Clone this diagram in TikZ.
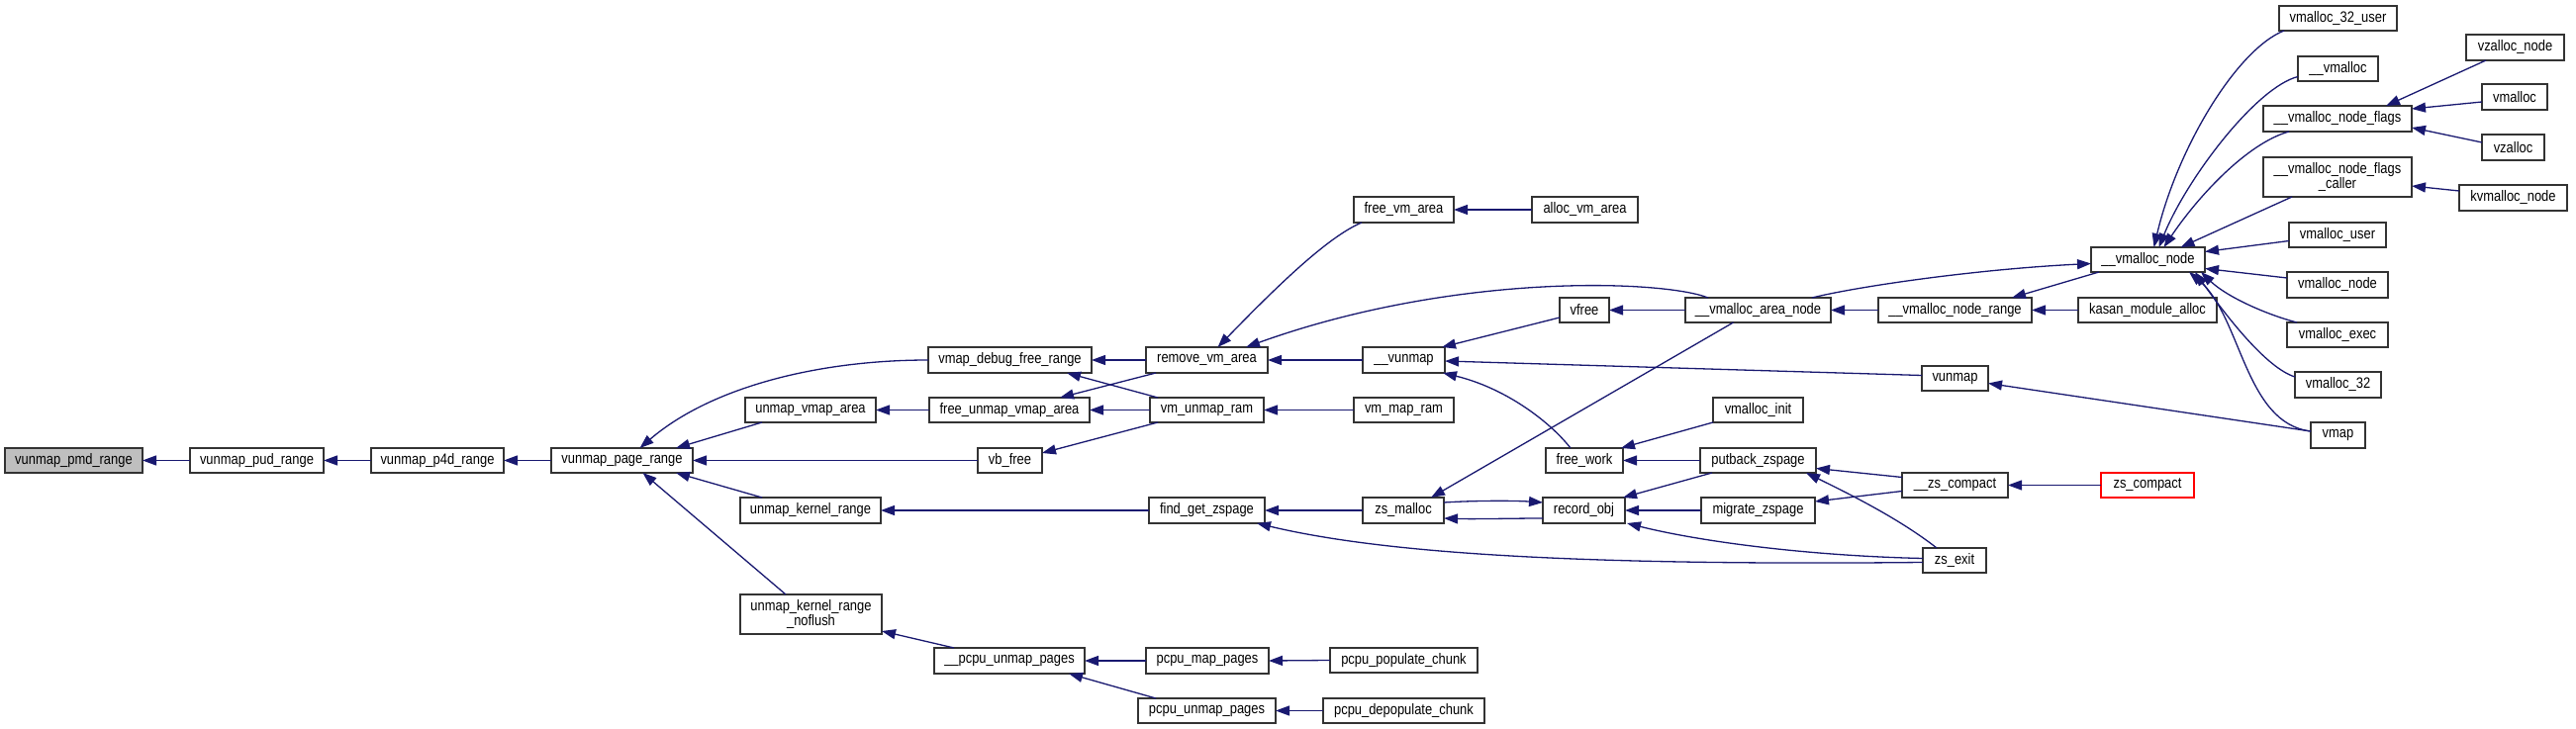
\documentclass[tikz,border=0pt]{standalone}
\usepackage{fontspec}
\newfontfamily\nodefont[FakeStretch=0.85]{Liberation Sans}
\usetikzlibrary{arrows.meta,calc}
\definecolor{dblue}{HTML}{191970}
\definecolor{fillgray}{HTML}{BFBFBF}
\tikzset{
  nbox/.style={draw=black!80, line width=0.8pt, fill=white, inner sep=0pt, outer sep=0pt,
    align=center, font=\nodefont\fontsize{7.6}{7.6}\selectfont, text=black},
  edge/.style={draw=dblue, line width=0.65pt, -{Triangle[length=7pt,width=5pt]}},
}
\newcommand{\dnode}[7][]{\node[nbox,#1,minimum width={(#5-#3)*0.5pt},minimum height={(#6-#4)*0.5pt}] (#2) at ({(#3+#5)/2},{(#4+#6)/2}) {#7};}
\begin{document}
\begin{tikzpicture}[x=0.5pt,y=-0.5pt]
\useasboundingbox (0,0) rectangle (2603,737);
% nodes
\dnode[fill=fillgray]{pmd}{5}{453}{144}{478}{vunmap\_pmd\_range}
\dnode{pud}{192}{453}{327}{478}{vunmap\_pud\_range}
\dnode{p4d}{375}{453}{509}{478}{vunmap\_p4d\_range}
\dnode{vpr}{557}{453}{700}{478}{vunmap\_page\_range}
\dnode{uva}{753}{402}{885}{427}{unmap\_vmap\_area}
\dnode{ukr}{748}{503}{890}{529}{unmap\_kernel\_range}
\dnode{ukrn}{748}{601}{891}{641}{unmap\_kernel\_range\\\_noflush}
\dnode{vdfr}{938}{351}{1103}{377}{vmap\_debug\_free\_range}
\dnode{fuva}{939}{402}{1101}{427}{free\_unmap\_vmap\_area}
\dnode{vbf}{988}{453}{1053}{478}{vb\_free}
\dnode{pcup}{944}{655}{1096}{681}{\_\_pcpu\_unmap\_pages}
\dnode{rva}{1158}{351}{1281}{377}{remove\_vm\_area}
\dnode{vur}{1162}{402}{1277}{427}{vm\_unmap\_ram}
\dnode{fgz}{1161}{503}{1278}{529}{find\_get\_zspage}
\dnode{pmp}{1158}{655}{1282}{681}{pcpu\_map\_pages}
\dnode{pup}{1150}{706}{1289}{731}{pcpu\_unmap\_pages}
\dnode{fva}{1368}{199}{1469}{225}{free\_vm\_area}
\dnode{vun}{1377}{351}{1460}{377}{\_\_vunmap}
\dnode{vmr}{1368}{402}{1469}{427}{vm\_map\_ram}
\dnode{zsm}{1377}{503}{1459}{529}{zs\_malloc}
\dnode{ppc}{1344}{655}{1493}{680}{pcpu\_populate\_chunk}
\dnode{pdc}{1337}{706}{1500}{731}{pcpu\_depopulate\_chunk}
\dnode{ava}{1548}{199}{1655}{225}{alloc\_vm\_area}
\dnode{vfr}{1576}{301}{1626}{326}{vfree}
\dnode{fw}{1562}{453}{1640}{478}{free\_work}
\dnode{ro}{1559}{503}{1642}{529}{record\_obj}
\dnode{van}{1703}{301}{1850}{326}{\_\_vmalloc\_area\_node}
\dnode{vi}{1731}{402}{1822}{427}{vmalloc\_init}
\dnode{pz}{1718}{453}{1835}{478}{putback\_zspage}
\dnode{mz}{1719}{503}{1834}{529}{migrate\_zspage}
\dnode{vnr}{1898}{301}{2053}{326}{\_\_vmalloc\_node\_range}
\dnode{vunm}{1942}{370}{2009}{395}{vunmap}
\dnode{zc}{1922}{478}{2029}{503}{\_\_zs\_compact}
\dnode{zx}{1943}{554}{2007}{579}{zs\_exit}
\dnode{vn}{2113}{250}{2228}{275}{\_\_vmalloc\_node}
\dnode{kma}{2100}{301}{2240}{326}{kasan\_module\_alloc}
\dnode[draw=red]{zsc}{2123}{478}{2217}{503}{zs\_compact}
\dnode{vtu}{2303}{6}{2422}{31}{vmalloc\_32\_user}
\dnode{vmal}{2322}{57}{2403}{82}{\_\_vmalloc}
\dnode{vnf}{2287}{107}{2437}{133}{\_\_vmalloc\_node\_flags}
\dnode{vnfc}{2287}{159}{2437}{199}{\_\_vmalloc\_node\_flags\\\_caller}
\dnode{vmu}{2313}{225}{2411}{250}{vmalloc\_user}
\dnode{vmn}{2311}{275}{2413}{301}{vmalloc\_node}
\dnode{vme}{2311}{326}{2413}{351}{vmalloc\_exec}
\dnode{vtt}{2319}{376}{2406}{402}{vmalloc\_32}
\dnode{vmap}{2335}{427}{2390}{453}{vmap}
\dnode{vzn}{2492}{35}{2591}{61}{vzalloc\_node}
\dnode{vml}{2508}{85}{2574}{111}{vmalloc}
\dnode{vz}{2508}{136}{2571}{162}{vzalloc}
\dnode{kvn}{2485}{187}{2594}{213}{kvmalloc\_node}
% edges (caller -> callee, arrow at callee)
\draw[edge] (pud.west) -- (pmd.east);
\draw[edge] (p4d.west) -- (pud.east);
\draw[edge] (vpr.west) -- (p4d.east);
\draw[edge] (vdfr.west) .. controls (830,364) and (720,390) .. ($(vpr.north)+(18,0)$);
\draw[edge] ($(uva.south west)+(17,0)$) -- ($(vpr.north east)+(-17,0)$);
\draw[edge] (vbf.west) -- (vpr.east);
\draw[edge] ($(ukr.north west)+(22,0)$) -- ($(vpr.south east)+(-17,0)$);
\draw[edge] ($(ukrn.north west)+(46,0)$) -- ($(vpr.south)+(21,0)$);
\draw[edge] (fuva.west) -- (uva.east);
\draw[edge] (rva.west) -- (vdfr.east);
\draw[edge] ($(vur.north west)+(8,0)$) -- ($(vdfr.south east)+(-25,0)$);
\draw[edge] ($(rva.south west)+(10,0)$) -- ($(fuva.north east)+(-30,0)$);
\draw[edge] (vur.west) -- (fuva.east);
\draw[edge] ($(vur.south west)+(8,0)$) -- ($(vbf.north east)+(0,5)$);
\draw[edge] (fgz.west) -- (ukr.east);
\draw[edge] ($(pcup.north west)+(20,0)$) -- ($(ukrn.south east)+(0,-3)$);
\draw[edge] (pmp.west) -- (pcup.east);
\draw[edge] ($(pup.north west)+(18,0)$) -- ($(pcup.south east)+(-16,0)$);
\draw[edge] (ppc.west) -- (pmp.east);
\draw[edge] (pdc.west) -- (pup.east);
\draw[edge] ($(fva.south west)+(8,0)$) .. controls (1340,240) and (1285,295) .. ($(rva.north)+(11,0)$);
\draw[edge] ($(van.north west)+(23,0)$) .. controls (1680,283) and (1470,275) .. ($(rva.north east)+(-22,0)$);
\draw[edge] (vun.west) -- (rva.east);
\draw[edge] (vmr.west) -- (vur.east);
\draw[edge] (zsm.west) -- (fgz.east);
\draw[edge] ($(zx.west)+(0,2)$) .. controls (1600,572) and (1400,560) .. ($(fgz.south east)+(-8,0)$);
\draw[edge] (ava.west) -- (fva.east);
\draw[edge] ($(vfr.south west)+(0,-5)$) -- ($(vun.north east)+(-3,0)$);
\draw[edge] ($(vunm.west)+(0,-3)$) -- ($(vun.east)+(0,1)$);
\draw[edge] ($(fw.north west)+(25,0)$) .. controls (1565,425) and (1520,392) .. ($(vun.south east)+(-2,0)$);
\draw[edge] ($(van.south)+(-25,0)$) -- ($(zsm.north east)+(-13,0)$);
\draw[edge] ($(zsm.east)+(0,-8)$) .. controls (1490,506) and (1530,506) .. ($(ro.west)+(0,-8)$);
\draw[edge] ($(ro.west)+(0,8)$) .. controls (1530,524) and (1490,525) .. ($(zsm.east)+(0,8)$);
\draw[edge] (van.west) -- (vfr.east);
\draw[edge] (vi.south west) -- ($(fw.north east)+(-2,0)$);
\draw[edge] (pz.west) -- (fw.east);
\draw[edge] ($(pz.south west)+(12,0)$) -- ($(ro.north east)+(-2,0)$);
\draw[edge] (mz.west) -- (ro.east);
\draw[edge] ($(zx.west)+(0,-2)$) .. controls (1830,562) and (1720,548) .. ($(ro.south east)+(2,0)$);
\draw[edge] (vnr.west) -- (van.east);
\draw[edge] ($(zc.west)+(0,-8)$) -- ($(pz.east)+(0,8)$);
\draw[edge] ($(zx.north west)+(14,0)$) .. controls (1920,525) and (1870,500) .. ($(pz.south east)+(-10,0)$);
\draw[edge] ($(zc.west)+(0,6)$) -- ($(mz.east)+(0,-9)$);
\draw[edge] ($(vn.south west)+(8,0)$) -- ($(vnr.north east)+(-20,0)$);
\draw[edge] (kma.west) -- (vnr.east);
\draw[edge] ($(van.north east)+(-19,0)$) .. controls (1880,289) and (2000,272) .. ($(vn.west)+(0,4)$);
\draw[edge] ($(vtu.south west)+(5,0)$) .. controls (2260,50) and (2200,150) .. ($(vn.north)+(6,0)$);
\draw[edge] ($(vmal.west)+(0,8)$) .. controls (2280,88) and (2210,180) .. ($(vn.north)+(11,0)$);
\draw[edge] ($(vnf.south west)+(26,0)$) .. controls (2270,145) and (2220,200) .. ($(vn.north)+(16,0)$);
\draw[edge] ($(vnfc.south west)+(29,0)$) -- ($(vn.north)+(33,0)$);
\draw[edge] ($(vmu.west)+(0,6)$) -- ($(vn.east)+(0,-8)$);
\draw[edge] ($(vmn.west)+(0,-7)$) -- ($(vn.east)+(0,9)$);
\draw[edge] ($(vme.north west)+(10,0)$) .. controls (2290,318) and (2250,300) .. ($(vn.south east)+(-4,0)$);
\draw[edge] ($(vtt.west)+(0,-8)$) .. controls (2290,372) and (2250,320) .. ($(vn.south east)+(-10,0)$);
\draw[edge] ($(vmap.west)+(0,-4)$) .. controls (2268,428) and (2265,320) .. ($(vn.south east)+(-16,0)$);
\draw[edge] ($(vmap.west)+(0,-4)$) -- ($(vunm.east)+(0,5)$);
\draw[edge] ($(vzn.south west)+(20,0)$) -- ($(vnf.north east)+(-26,0)$);
\draw[edge] ($(vml.west)+(0,5)$) -- ($(vnf.east)+(0,-10)$);
\draw[edge] ($(vz.west)+(0,-5)$) -- ($(vnf.east)+(0,9)$);
\draw[edge] ($(kvn.west)+(0,-7)$) -- ($(vnfc.east)+(0,9)$);
\draw[edge] (zsc.west) -- (zc.east);
\end{tikzpicture}
\end{document}
